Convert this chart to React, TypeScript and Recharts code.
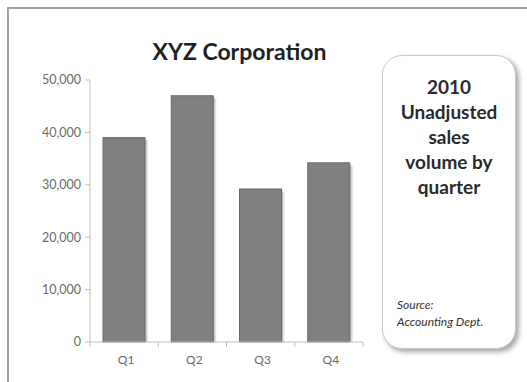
import { BarChart, Bar, XAxis, YAxis } from 'recharts';

// quarterly unadjusted sales volume, 2010
const quarters = ['Q1', 'Q2', 'Q3', 'Q4'];
const salesVolume = [39000, 47000, 29200, 34200];
const yTicks = [0, 10000, 20000, 30000, 40000, 50000];
const noteLines = ['2010', 'Unadjusted', 'sales', 'volume by', 'quarter'];
const sourceLines = ['Source:', 'Accounting Dept.'];

const data = quarters.map((q, i) => ({ quarter: q, sales: salesVolume[i] }));

const FONT = 'Lato, "Open Sans", sans-serif';
const AXIS = '#bfbfbf';
const PLOT_LEFT = 90;
const PLOT_RIGHT = 363;
const BAND = (PLOT_RIGHT - PLOT_LEFT) / quarters.length;

const ShadowBar = (props: any) => {
  const { x, y, width, height } = props;
  if (!height || height <= 0) return null;
  return (
    <g>
      <rect x={x + 3} y={y + 3} width={width} height={height - 3} fill="#000" fillOpacity={0.12} />
      <rect x={x + 1.5} y={y + 1.5} width={width} height={height - 1.5} fill="#000" fillOpacity={0.15} />
      <rect x={x} y={y} width={width} height={height} fill="#808080" stroke="#6a6a6a" strokeWidth={1} />
    </g>
  );
};

const QuarterTick = (props: any) => {
  const { x, y, payload, index } = props;
  return (
    <g>
      <line x1={x - BAND / 2} y1={y} x2={x - BAND / 2} y2={y + 5} stroke={AXIS} />
      {index === quarters.length - 1 && (
        <line x1={x + BAND / 2} y1={y} x2={x + BAND / 2} y2={y + 5} stroke={AXIS} />
      )}
      <text x={x + 2} y={y + 22} textAnchor="middle" fontSize={12} fill="#6b6b6b" fontFamily={FONT}>
        {payload.value}
      </text>
    </g>
  );
};

export default function App() {
  return (
    <div style={{ position: 'absolute', left: 0, top: 0, width: 527, height: 382, background: '#fff', fontFamily: FONT, overflow: 'hidden' }}>
      <div style={{ position: 'absolute', left: 7, top: 7, width: 530, height: 390, borderTop: '2px solid #a3a3a3', borderLeft: '2px solid #a3a3a3' }} />
      <div style={{ position: 'absolute', left: 0, top: 38, width: 479, textAlign: 'center', fontSize: 23, lineHeight: '26px', fontWeight: 700, color: '#222' }}>
        XYZ Corporation
      </div>
      <div style={{ position: 'absolute', left: 0, top: 0 }}>
        <BarChart width={527} height={382} data={data} margin={{ top: 80, right: 164, bottom: 10, left: 30 }}>
          <XAxis
            dataKey="quarter"
            height={30}
            tickLine={false}
            tickSize={0}
            tickMargin={0}
            axisLine={{ stroke: AXIS }}
            tick={<QuarterTick />}
          />
          <YAxis
            width={60}
            domain={[0, 50000]}
            ticks={yTicks}
            tickFormatter={(v: number) => v.toLocaleString('en-US')}
            tickSize={5}
            tickMargin={4}
            tickLine={{ stroke: AXIS }}
            axisLine={{ stroke: AXIS }}
            tick={{ fontSize: 12.5, fill: '#6b6b6b', fontFamily: FONT }}
          />
          <Bar dataKey="sales" barSize={42} shape={<ShadowBar />} isAnimationActive={false} />
        </BarChart>
      </div>
      <div
        style={{
          position: 'absolute',
          left: 382,
          top: 55,
          width: 132,
          height: 292,
          borderRadius: 20,
          border: '1px solid #c9c9c9',
          boxShadow: '3px 3px 5px rgba(0,0,0,0.35)',
          background: '#fff',
        }}
      >
        <div style={{ paddingTop: 18, textAlign: 'center', fontSize: 19, lineHeight: '25px', fontWeight: 700, color: '#2a2a2a' }}>
          {noteLines.map((l) => (
            <div key={l}>{l}</div>
          ))}
        </div>
        <div style={{ position: 'absolute', left: 14, top: 240, fontSize: 12, lineHeight: '17px', fontStyle: 'italic', color: '#333' }}>
          {sourceLines.map((l) => (
            <div key={l}>{l}</div>
          ))}
        </div>
      </div>
    </div>
  );
}
